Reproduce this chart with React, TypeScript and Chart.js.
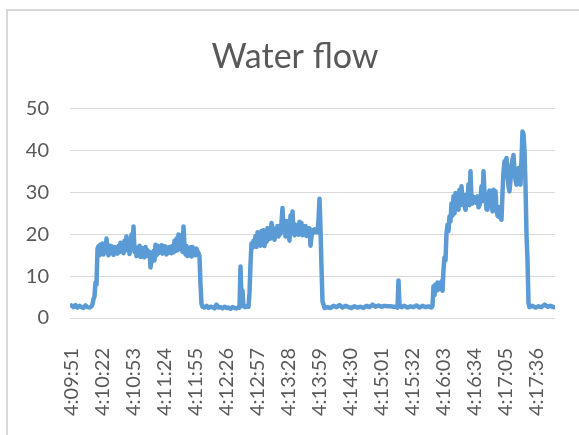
import React, { useEffect, useRef } from "react";
import { Chart, registerables } from "chart.js";

Chart.register(...registerables);

const chartTitle = "Water flow";

// category tick labels (every 31 s) and their offsets in seconds from 4:09:51
const tickLabels = [
  "4:09:51", "4:10:22", "4:10:53", "4:11:24", "4:11:55", "4:12:26", "4:12:57", "4:13:28",
  "4:13:59", "4:14:30", "4:15:01", "4:15:32", "4:16:03", "4:16:34", "4:17:05", "4:17:36",
];
const tickSeconds = [0, 31, 62, 93, 124, 155, 186, 217, 248, 279, 310, 341, 372, 403, 434, 465];

const yTicks = [0, 10, 20, 30, 40, 50];

// readings: seconds after 4:09:51, and flow value
const seconds = [
  0, 2, 4, 6, 8, 10, 12, 14, 16, 18, 20, 21,
  22, 23, 24, 25, 26, 27, 28, 29, 30, 31, 32, 33, 34, 35, 36, 37, 38, 39, 40, 41,
  42, 43, 44, 45, 46, 47, 48, 49, 50, 51, 52, 53, 54, 55, 56, 57, 58, 59, 60, 61,
  62, 63, 64, 65, 66, 67, 68, 69, 70, 71, 72, 73, 74, 75, 76, 77, 78, 79, 80, 81,
  82, 83, 84, 85, 86, 87, 88, 89, 90, 91, 92, 93, 94, 95, 96, 97, 98, 99, 100, 101,
  102, 103, 104, 105, 106, 107, 108, 109, 110, 111, 112, 113, 114, 115, 116, 117, 118, 119, 120, 121,
  122, 123, 124, 125, 126, 127, 128, 129, 130,
  131, 133, 135, 137, 139, 141, 143, 145, 147, 149, 151, 153, 155, 157, 159, 161, 163, 165, 167,
  168, 169, 170, 171, 172, 174, 176, 177,
  178, 179, 180, 181, 182, 183, 184, 185, 186, 187, 188, 189, 190, 191, 192, 193, 194, 195, 196, 197,
  198, 199, 200, 201, 202, 203, 204, 205, 206, 207, 208, 209, 210, 211, 212, 213, 214, 215, 216, 217,
  218, 219, 220, 221, 222, 223, 224, 225, 226, 227, 228, 229, 230, 231, 232, 233, 234, 235, 236, 237,
  238, 239, 240, 241, 242, 243, 244, 245, 246, 247, 248, 249, 250, 251, 252,
  253, 256, 259, 262, 265, 268, 271, 274, 277, 280, 283, 286, 289, 292, 295, 298, 301, 304, 307, 310,
  313, 316, 319, 322, 325, 326, 327, 328,
  330, 333, 336, 339, 342, 345, 348, 351, 354, 357, 360, 361,
  362, 363, 364, 365, 366, 367, 368, 369, 370, 371, 372, 373, 374, 375, 376, 377, 378, 379, 380, 381,
  382, 383, 384, 385, 386, 387, 388, 389, 390, 391, 392, 393, 394, 395, 396, 397, 398, 399, 400, 401,
  402, 403, 404, 405, 406, 407, 408, 409, 410, 411, 412, 413, 414, 415, 416, 417, 418, 419, 420, 421,
  422, 423, 424, 425, 426, 427, 428, 429, 430, 431, 432, 433, 434, 435, 436, 437, 438, 439, 440, 441,
  442, 443, 444, 445, 446, 447, 448, 449, 450, 451, 452, 453, 454, 455, 456, 457,
  458, 461, 464, 467, 470, 473, 476, 479, 482,
];

const flow = [
  3.0, 2.6, 3.1, 2.5, 2.9, 2.6, 2.4, 3.0, 2.6, 2.5, 2.8, 3.3,
  4.5, 5.2, 8.5, 8.0, 16.5, 17.2, 15.0, 17.6, 16.0, 17.8, 15.2, 17.0, 16.3, 19.0, 16.2, 15.0, 17.3, 15.5, 17.2, 16.0,
  15.1, 17.0, 15.6, 16.8, 15.4, 17.2, 15.8, 18.0, 16.0, 17.6, 15.5, 18.5, 16.2, 19.5, 16.4, 18.8, 15.3, 17.4, 20.0, 16.8,
  21.9, 15.8, 17.0, 14.8, 16.5, 15.2, 17.3, 14.6, 16.8, 15.0, 16.4, 14.5, 17.0, 15.3, 16.2, 14.8, 15.8, 12.1, 14.5, 13.5,
  16.0, 13.8, 17.5, 15.0, 17.3, 15.5, 17.0, 16.2, 17.4, 15.4, 17.2, 16.0, 17.1, 15.2, 16.8, 15.6, 17.0, 16.1, 15.5, 17.3,
  15.7, 18.5, 16.0, 19.0, 16.2, 20.0, 16.5, 18.0, 19.8, 15.8, 21.9, 17.0, 15.2, 17.2, 14.8, 16.2, 15.0, 16.9, 14.7, 17.0,
  15.2, 16.5, 15.0, 16.6, 16.0, 15.5, 14.8, 8.0, 3.4,
  2.7, 2.5, 2.9, 2.4, 2.7, 2.6, 2.3, 3.2, 2.5, 2.6, 2.3, 2.7, 2.4, 2.5, 2.2, 2.6, 2.4, 2.3, 2.6,
  2.5, 12.3, 4.0, 6.5, 2.8, 2.6, 2.9, 2.7,
  6.0, 13.0, 17.8, 16.8, 18.5, 17.2, 19.6, 17.0, 20.5, 17.5, 19.8, 17.3, 20.8, 18.0, 21.0, 17.2, 19.5, 18.2, 21.5, 18.8,
  20.4, 19.0, 22.7, 19.5, 21.5, 18.7, 20.8, 19.7, 22.0, 19.5, 21.4, 20.1, 23.0, 26.3, 21.5, 22.5, 19.5, 23.2, 20.5, 22.0,
  18.5, 24.5, 21.0, 25.5, 20.8, 19.8, 22.3, 20.4, 21.8, 19.9, 23.0, 20.2, 22.7, 19.8, 21.6, 20.0, 22.0, 19.6, 21.2, 20.3,
  21.5, 17.3, 19.5, 21.0, 20.4, 21.2, 20.6, 21.0, 20.5, 23.5, 28.5, 21.5, 12.0, 4.0, 3.2,
  2.4, 2.6, 2.4, 2.9, 2.6, 3.1, 2.5, 2.9, 2.6, 2.4, 2.8, 2.5, 2.7, 2.4, 2.9, 2.6, 3.2, 2.7, 3.0, 2.7,
  2.9, 2.8, 2.8, 2.7, 2.6, 2.5, 9.0, 3.0,
  2.6, 2.9, 2.5, 2.8, 2.6, 3.0, 2.5, 2.9, 2.6, 2.8, 2.5, 2.9,
  7.6, 5.5, 8.0, 6.5, 8.5, 6.8, 8.3, 7.2, 8.8, 6.5, 11.5, 14.5, 13.8, 20.3, 22.3, 20.8, 24.3, 23.1, 27.4, 24.5,
  29.1, 25.0, 29.9, 26.5, 28.0, 25.9, 30.7, 27.0, 31.5, 28.0, 29.5, 26.8, 25.9, 29.5, 28.0, 32.0, 27.0, 35.1, 28.5, 27.4,
  29.0, 27.8, 28.5, 27.5, 29.1, 26.5, 27.0, 28.5, 31.5, 28.0, 35.1, 29.9, 28.5, 26.0, 25.9, 29.5, 30.5, 27.0, 28.0, 25.5,
  30.7, 28.5, 30.3, 26.0, 24.5, 24.3, 26.5, 24.0, 23.5, 30.0, 35.0, 37.5, 36.0, 38.3, 34.5, 31.5, 30.3, 33.0, 36.5, 38.0,
  39.0, 35.0, 33.0, 31.9, 34.0, 35.9, 33.0, 31.9, 38.0, 44.6, 44.0, 40.0, 31.9, 20.0, 13.9, 3.6,
  2.6, 2.9, 2.5, 2.8, 2.6, 3.2, 2.7, 2.9, 2.6,
];

const FONT = "Lato, 'Open Sans', sans-serif";

export default function App() {
  const canvasRef = useRef<HTMLCanvasElement | null>(null);

  useEffect(() => {
    const canvas = canvasRef.current;
    if (!canvas) return;
    const points = seconds.map((s, i) => ({ x: s, y: flow[i] }));
    const chart = new Chart(canvas, {
      type: "line",
      data: {
        datasets: [
          {
            data: points,
            borderColor: "#5B9BD5",
            backgroundColor: "#5B9BD5",
            borderWidth: 4.5,
            pointRadius: 0,
            tension: 0,
            borderJoinStyle: "round",
            borderCapStyle: "round",
            yAxisID: "y",
          },
        ],
      },
      options: {
        animation: false,
        responsive: false,
        layout: { padding: { left: 0, right: 0, top: 0, bottom: 0 } },
        plugins: {
          legend: { display: false },
          tooltip: { enabled: false },
          title: {
            display: true,
            text: chartTitle,
            color: "#595959",
            font: { family: FONT, size: 34, weight: "normal" },
            padding: { top: 36.8, bottom: 31.4 },
          },
        },
        scales: {
          x: {
            type: "linear",
            min: -1.5,
            max: 483.5,
            grid: { display: false },
            border: { display: false },
            afterBuildTicks: (scale: any) => {
              scale.ticks = tickSeconds.map((v) => ({ value: v }));
            },
            afterFit: (scale: any) => {
              scale.height = 117;
            },
            ticks: {
              autoSkip: false,
              minRotation: 90,
              maxRotation: 90,
              padding: 22,
              color: "#595959",
              font: { family: FONT, size: 20 },
              callback: (value: any) => {
                const i = tickSeconds.indexOf(Number(value));
                return i >= 0 ? tickLabels[i] : "";
              },
            },
          },
          y: {
            position: "left",
            min: 0,
            max: 50,
            afterBuildTicks: (scale: any) => {
              scale.ticks = yTicks.map((v) => ({ value: v }));
            },
            afterFit: (scale: any) => {
              scale.width = 70;
            },
            grid: { color: "#d9d9d9", lineWidth: 1, drawTicks: false },
            border: { display: false },
            ticks: {
              padding: 21,
              color: "#595959",
              font: { family: FONT, size: 20 },
            },
          },
          yRight: {
            position: "right",
            min: 0,
            max: 50,
            grid: { display: false, drawTicks: false },
            border: { display: false },
            ticks: { display: false },
            afterFit: (scale: any) => {
              scale.width = 35;
            },
          },
        },
      },
    });
    return () => chart.destroy();
  }, []);

  return (
    <div
      style={{
        position: "absolute",
        left: 0,
        top: 0,
        width: 579,
        height: 435,
        overflow: "hidden",
        background: "#ffffff",
      }}
    >
      <div
        style={{
          position: "absolute",
          left: 6,
          top: 9,
          width: 700,
          height: 600,
          border: "2px solid #d9d9d9",
          background: "#ffffff",
        }}
      />
      <canvas
        ref={canvasRef}
        width={590}
        height={435}
        style={{ position: "absolute", left: 0, top: 0, width: 590, height: 435 }}
      />
    </div>
  );
}
